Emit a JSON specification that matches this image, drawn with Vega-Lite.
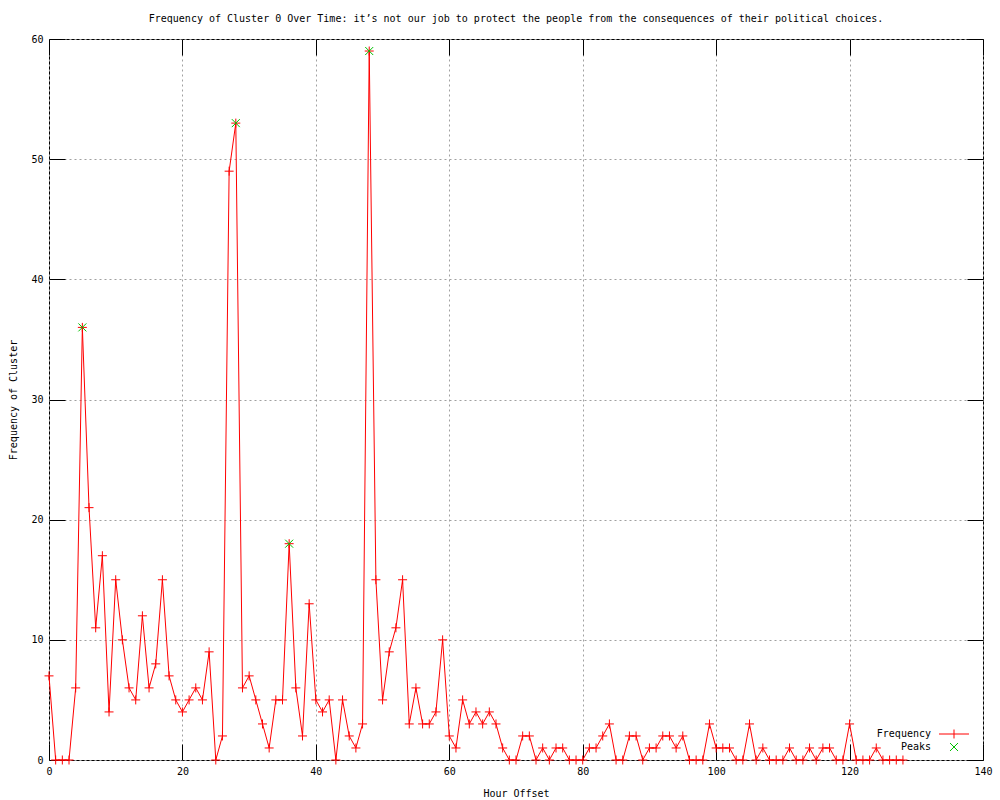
{
  "$schema": "https://vega.github.io/schema/vega-lite/v6.json",
  "width": 934,
  "height": 721,
  "autosize": {"type": "none"},
  "padding": {"left": 49, "top": 39, "right": 17, "bottom": 40},
  "background": "white",
  "title": {
    "text": "Frequency of Cluster 0 Over Time: it’s not our job to protect the people from the consequences of their political choices.",
    "font": "DejaVu Sans Mono",
    "fontSize": 10,
    "fontWeight": "normal",
    "color": "black",
    "anchor": "middle",
    "offset": 10
  },
  "config": {
    "view": {"stroke": "black", "strokeWidth": 1},
    "axis": {
      "labelFont": "DejaVu Sans Mono",
      "labelFontSize": 10,
      "labelColor": "black",
      "titleFont": "DejaVu Sans Mono",
      "titleFontSize": 10,
      "titleFontWeight": "normal",
      "titleColor": "black",
      "domain": false,
      "tickColor": "black",
      "tickWidth": 1,
      "tickSize": -16,
      "labelPadding": 22,
      "gridColor": "#a0a0a0",
      "gridDash": [2, 3],
      "gridWidth": 1,
      "gridOpacity": 1
    },
    "legend": {
      "labelFont": "DejaVu Sans Mono",
      "labelFontSize": 10,
      "labelColor": "black",
      "titleFont": "DejaVu Sans Mono",
      "titleFontSize": 10,
      "symbolSize": 121,
      "rowPadding": 0,
      "padding": 0,
      "offset": 7
    }
  },
  "datasets": {
    "freq": [
      {"hour": 0, "freq": 7}, {"hour": 1, "freq": 0}, {"hour": 2, "freq": 0}, {"hour": 3, "freq": 0},
      {"hour": 4, "freq": 6}, {"hour": 5, "freq": 36}, {"hour": 6, "freq": 21}, {"hour": 7, "freq": 11},
      {"hour": 8, "freq": 17}, {"hour": 9, "freq": 4}, {"hour": 10, "freq": 15}, {"hour": 11, "freq": 10},
      {"hour": 12, "freq": 6}, {"hour": 13, "freq": 5}, {"hour": 14, "freq": 12}, {"hour": 15, "freq": 6},
      {"hour": 16, "freq": 8}, {"hour": 17, "freq": 15}, {"hour": 18, "freq": 7}, {"hour": 19, "freq": 5},
      {"hour": 20, "freq": 4}, {"hour": 21, "freq": 5}, {"hour": 22, "freq": 6}, {"hour": 23, "freq": 5},
      {"hour": 24, "freq": 9}, {"hour": 25, "freq": 0}, {"hour": 26, "freq": 2}, {"hour": 27, "freq": 49},
      {"hour": 28, "freq": 53}, {"hour": 29, "freq": 6}, {"hour": 30, "freq": 7}, {"hour": 31, "freq": 5},
      {"hour": 32, "freq": 3}, {"hour": 33, "freq": 1}, {"hour": 34, "freq": 5}, {"hour": 35, "freq": 5},
      {"hour": 36, "freq": 18}, {"hour": 37, "freq": 6}, {"hour": 38, "freq": 2}, {"hour": 39, "freq": 13},
      {"hour": 40, "freq": 5}, {"hour": 41, "freq": 4}, {"hour": 42, "freq": 5}, {"hour": 43, "freq": 0},
      {"hour": 44, "freq": 5}, {"hour": 45, "freq": 2}, {"hour": 46, "freq": 1}, {"hour": 47, "freq": 3},
      {"hour": 48, "freq": 59}, {"hour": 49, "freq": 15}, {"hour": 50, "freq": 5}, {"hour": 51, "freq": 9},
      {"hour": 52, "freq": 11}, {"hour": 53, "freq": 15}, {"hour": 54, "freq": 3}, {"hour": 55, "freq": 6},
      {"hour": 56, "freq": 3}, {"hour": 57, "freq": 3}, {"hour": 58, "freq": 4}, {"hour": 59, "freq": 10},
      {"hour": 60, "freq": 2}, {"hour": 61, "freq": 1}, {"hour": 62, "freq": 5}, {"hour": 63, "freq": 3},
      {"hour": 64, "freq": 4}, {"hour": 65, "freq": 3}, {"hour": 66, "freq": 4}, {"hour": 67, "freq": 3},
      {"hour": 68, "freq": 1}, {"hour": 69, "freq": 0}, {"hour": 70, "freq": 0}, {"hour": 71, "freq": 2},
      {"hour": 72, "freq": 2}, {"hour": 73, "freq": 0}, {"hour": 74, "freq": 1}, {"hour": 75, "freq": 0},
      {"hour": 76, "freq": 1}, {"hour": 77, "freq": 1}, {"hour": 78, "freq": 0}, {"hour": 79, "freq": 0},
      {"hour": 80, "freq": 0}, {"hour": 81, "freq": 1}, {"hour": 82, "freq": 1}, {"hour": 83, "freq": 2},
      {"hour": 84, "freq": 3}, {"hour": 85, "freq": 0}, {"hour": 86, "freq": 0}, {"hour": 87, "freq": 2},
      {"hour": 88, "freq": 2}, {"hour": 89, "freq": 0}, {"hour": 90, "freq": 1}, {"hour": 91, "freq": 1},
      {"hour": 92, "freq": 2}, {"hour": 93, "freq": 2}, {"hour": 94, "freq": 1}, {"hour": 95, "freq": 2},
      {"hour": 96, "freq": 0}, {"hour": 97, "freq": 0}, {"hour": 98, "freq": 0}, {"hour": 99, "freq": 3},
      {"hour": 100, "freq": 1}, {"hour": 101, "freq": 1}, {"hour": 102, "freq": 1}, {"hour": 103, "freq": 0},
      {"hour": 104, "freq": 0}, {"hour": 105, "freq": 3}, {"hour": 106, "freq": 0}, {"hour": 107, "freq": 1},
      {"hour": 108, "freq": 0}, {"hour": 109, "freq": 0}, {"hour": 110, "freq": 0}, {"hour": 111, "freq": 1},
      {"hour": 112, "freq": 0}, {"hour": 113, "freq": 0}, {"hour": 114, "freq": 1}, {"hour": 115, "freq": 0},
      {"hour": 116, "freq": 1}, {"hour": 117, "freq": 1}, {"hour": 118, "freq": 0}, {"hour": 119, "freq": 0},
      {"hour": 120, "freq": 3}, {"hour": 121, "freq": 0}, {"hour": 122, "freq": 0}, {"hour": 123, "freq": 0},
      {"hour": 124, "freq": 1}, {"hour": 125, "freq": 0}, {"hour": 126, "freq": 0}, {"hour": 127, "freq": 0},
      {"hour": 128, "freq": 0}
    ],
    "peaks": [
      {"hour": 5, "freq": 36}, {"hour": 28, "freq": 53}, {"hour": 36, "freq": 18}, {"hour": 48, "freq": 59}
    ]
  },
  "layer": [
    {
      "data": {"name": "freq"},
      "mark": {"type": "line", "strokeWidth": 1, "interpolate": "linear"},
      "encoding": {
        "x": {
          "field": "hour", "type": "quantitative",
          "scale": {"domain": [0, 140], "nice": false, "zero": false},
          "axis": {"title": "Hour Offset", "values": [0, 20, 40, 60, 80, 100, 120, 140], "grid": true, "titlePadding": 12, "labelFlush": false, "labelOverlap": false}
        },
        "y": {
          "field": "freq", "type": "quantitative",
          "scale": {"domain": [0, 60], "nice": false},
          "axis": {"title": "Frequency of Cluster", "values": [0, 10, 20, 30, 40, 50, 60], "grid": true, "titlePadding": 12, "labelFlush": false, "labelOverlap": false}
        },
        "color": {
          "datum": "Frequency",
          "type": "nominal",
          "scale": {"domain": ["Frequency", "Peaks"], "range": ["#ff0000", "#00c000"]},
          "legend": {
            "title": " ",
            "titleOrient": "right",
            "titlePadding": 5,
            "orient": "bottom-right",
            "encode": {
              "symbols": {
                "update": {
                  "shape": {"signal": "datum.value === 'Frequency' ? 'M-2.727,0H2.727M0,-0.818V0.818' : 'M-0.727,-0.727L0.727,0.727M-0.727,0.727L0.727,-0.727'"},
                  "size": {"value": 121},
                  "stroke": {"signal": "datum.value === 'Frequency' ? '#ff0000' : '#00c000'"},
                  "fill": {"value": "transparent"},
                  "strokeWidth": {"value": 1},
                  "x": {"value": 19}
                }
              },
              "labels": {
                "update": {
                  "x": {"value": -4},
                  "align": {"value": "right"}
                }
              }
            }
          }
        }
      }
    },
    {
      "data": {"name": "freq"},
      "mark": {"type": "point", "shape": "M-1,0H1M0,-1V1", "size": 81, "filled": false, "strokeWidth": 1, "opacity": 1},
      "encoding": {
        "x": {"field": "hour", "type": "quantitative", "axis": null},
        "y": {"field": "freq", "type": "quantitative", "axis": null},
        "color": {"datum": "Frequency", "type": "nominal"}
      }
    },
    {
      "data": {"name": "peaks"},
      "mark": {"type": "point", "shape": "M-1,-1L1,1M-1,1L1,-1", "size": 64, "filled": false, "strokeWidth": 1, "opacity": 1},
      "encoding": {
        "x": {"field": "hour", "type": "quantitative", "axis": {"orient": "top", "labels": false, "grid": false, "title": null, "values": [0, 20, 40, 60, 80, 100, 120, 140]}},
        "y": {"field": "freq", "type": "quantitative", "axis": {"orient": "right", "labels": false, "grid": false, "title": null, "values": [0, 10, 20, 30, 40, 50, 60]}},
        "color": {"datum": "Peaks", "type": "nominal"}
      }
    }
  ],
  "resolve": {"axis": {"x": "independent", "y": "independent"}}
}
